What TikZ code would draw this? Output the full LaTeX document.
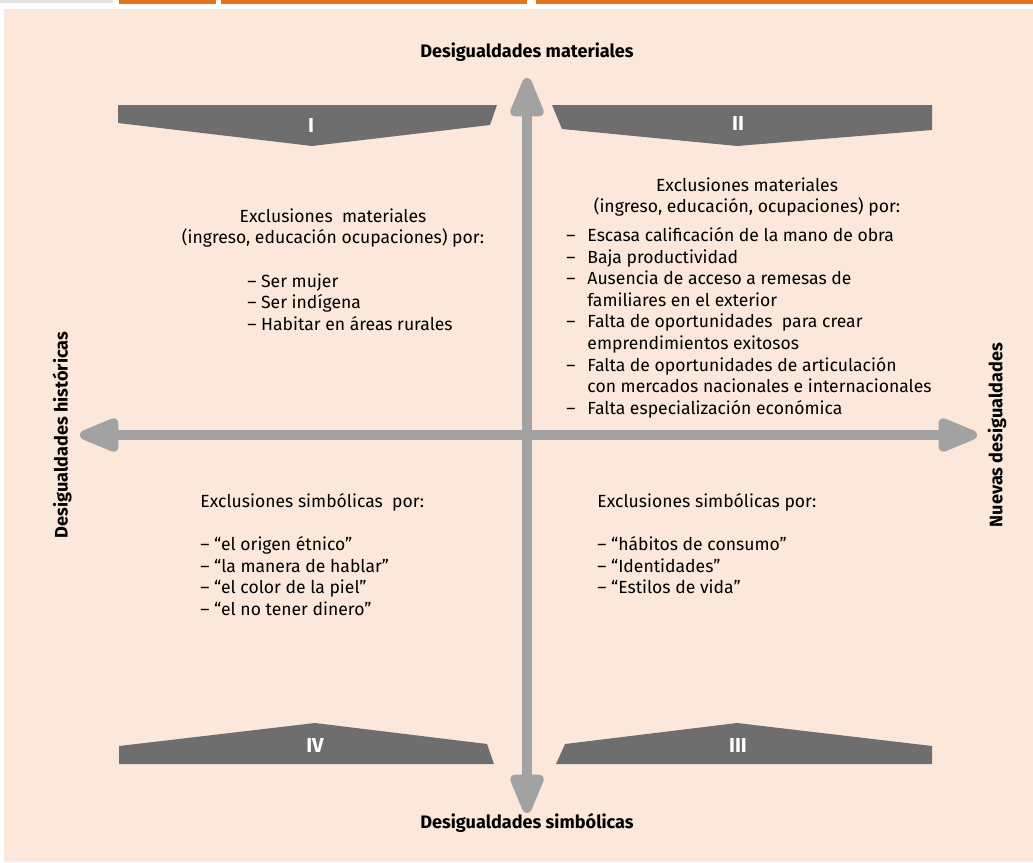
\documentclass[tikz,border=0pt]{standalone}
\usepackage{fontspec}
\setmainfont{Fira Sans}
\usetikzlibrary{arrows.meta,positioning}
\definecolor{peach}{HTML}{FBE8DA}
\definecolor{axisgray}{HTML}{A2A2A2}
\definecolor{bannergray}{HTML}{6E6E6E}
\definecolor{topline}{HTML}{E8731E}
\definecolor{stripgray}{HTML}{E4E4E4}
\newcommand{\dashmark}{\makebox[12pt][l]{–}}
\newcommand{\hangpad}{\hspace*{12pt}}

\begin{document}
\begin{tikzpicture}[x=0.02cm, y=-0.02cm,
        axis/.style={draw=axisgray, line width=5.5pt, >={Triangle[round,length=27pt,width=20pt]}, <->},
        banner/.style={fill=bannergray},
        numeral/.style={text=white, font=\fontsize{11.5}{13}\selectfont\bfseries},
        axislabel/.style={font=\fontsize{10.3}{12}\selectfont\bfseries},
        block/.style={inner sep=0pt, font=\fontsize{10}{12.3}\selectfont}
    ]
        \useasboundingbox (0,0) rectangle (1033,862);
        % Page background and top rule
        \fill[white] (0,0) rectangle (1033,862);
        \fill[peach] (4,9) rectangle (1033,862);
        \fill[stripgray] (0,0) rectangle (113,3);
        \fill[topline] (119,0) rectangle (216,4);
        \fill[topline] (221,0) rectangle (527,4);
        \fill[topline] (536,0) rectangle (1033,4);
        % Axes
        \coordinate (north) at (527,78);
        \coordinate (south) at (527,813);
        \coordinate (west) at (80,435);
        \coordinate (east) at (977,435);
        \draw[axis] (south) -- (north);
        \draw[axis] (west) -- (east);
        \node[axislabel] (materiales) at (527,52) {Desigualdades materiales};
        \node[axislabel] (simbolicas) at (527,823) {Desigualdades simbólicas};
        \node[axislabel, rotate=90] (historicas) at (62,435) {Desigualdades históricas};
        \node[axislabel, rotate=90] (nuevas) at (997,435) {Nuevas desigualdades};
        % Quadrant banners
        \fill[banner] (118,105) -- (497,105) -- (490,125) -- (312,146) -- (118,123) -- cycle;
        \fill[banner] (552,105) -- (932,105) -- (932,130) -- (737,146) -- (562,129) -- cycle;
        \fill[banner] (119,764) -- (494,764) -- (487,744) -- (315,723) -- (119,746) -- cycle;
        \fill[banner] (556,764) -- (932,764) -- (932,746) -- (737,723) -- (565,744) -- cycle;
        \node[numeral] (quadI) at (311,125) {I};
        \node[numeral] (quadII) at (738,123) {II};
        \node[numeral] (quadIII) at (738,745) {III};
        \node[numeral] (quadIV) at (315,745) {IV};
        % Quadrant I
        \node[block, align=center] (headI) at (333,228) {Exclusiones\ \ materiales\\(ingreso, educación ocupaciones) por:};
        \node[block, align=left, anchor=north west] (listI) at (247,273) {– Ser mujer\\– Ser indígena\\– Habitar en áreas rurales};
        % Quadrant II
        \node[block, align=center] (headII) at (747,197) {Exclusiones materiales\\(ingreso, educación, ocupaciones) por:};
        \node[block, align=left, anchor=north west] (listII) at (566,227) {\dashmark Escasa calificación de la mano de obra\\
            \dashmark Baja productividad\\
            \dashmark Ausencia de acceso a remesas de\\
            \hangpad familiares en el exterior\\
            \dashmark Falta de oportunidades\ \ para crear\\
            \hangpad emprendimientos exitosos\\
            \dashmark Falta de oportunidades de articulación\\
            \hangpad con mercados nacionales e internacionales\\
            \dashmark Falta especialización económica};
        % Quadrant IV
        \node[block, anchor=west] (headIV) at (200,502) {Exclusiones simbólicas\ \ por:};
        \node[block, align=left, anchor=north west] (listIV) at (200,536) {– “el origen étnico”\\– “la manera de hablar”\\– “el color de la piel”\\– “el no tener dinero”};
        % Quadrant III
        \node[block, anchor=west] (headIII) at (597,502) {Exclusiones simbólicas por:};
        \node[block, align=left, anchor=north west] (listIII) at (597,536) {– “hábitos de consumo”\\– “Identidades”\\– “Estilos de vida”};
    \end{tikzpicture}
\end{document}
